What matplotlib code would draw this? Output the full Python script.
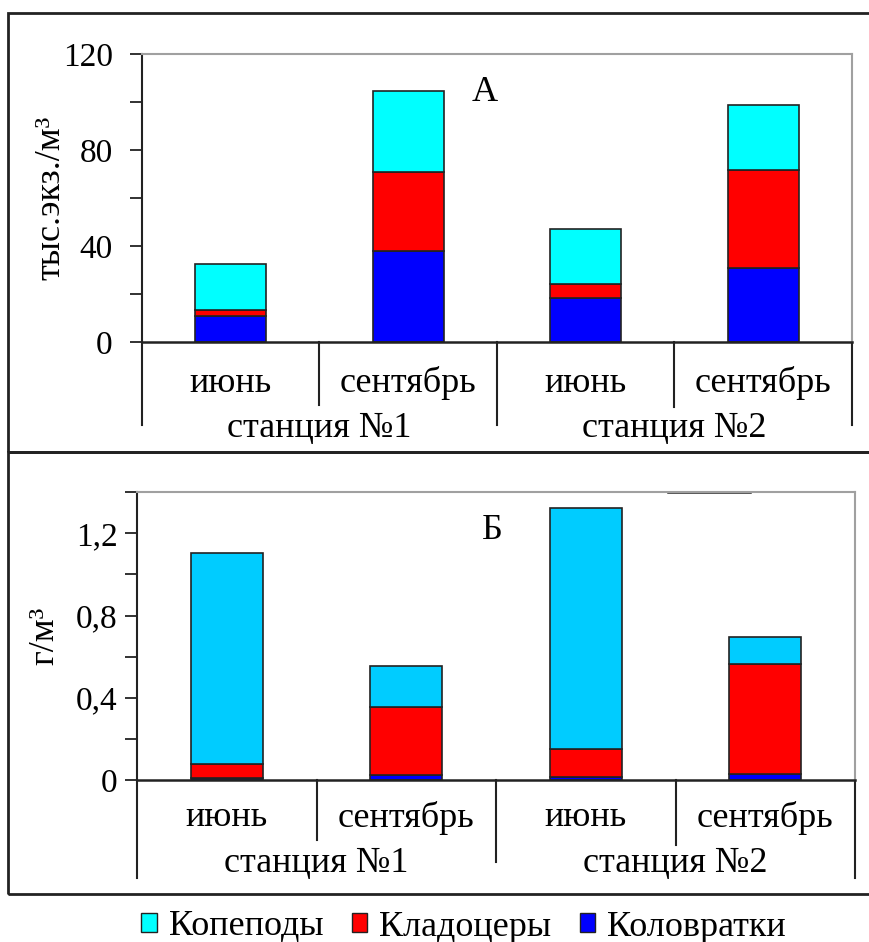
import matplotlib
matplotlib.use("Agg")
from matplotlib import pyplot as plt
from matplotlib.patches import Patch, Rectangle
from matplotlib.ticker import FixedLocator

plt.rcParams["font.family"] = ["Liberation Serif", "DejaVu Serif"]

months = ["июнь", "сентябрь", "июнь", "сентябрь"]
stations = ["станция №1", "станция №2"]
groups = ["Копеподы", "Кладоцеры", "Коловратки"]

# A: abundance, thousand ind./m3
abund_rotifers = [10.8, 38.2, 18.6, 31.1]
abund_cladocera = [2.8, 32.8, 5.8, 40.7]
abund_copepods = [19.2, 33.8, 22.9, 27.2]

# Б: biomass, g/m3
bio_rotifers = [0.008, 0.024, 0.016, 0.028]
bio_cladocera = [0.068, 0.329, 0.135, 0.535]
bio_copepods = [1.03, 0.20, 1.174, 0.133]

fs = 26
tick_fs = 24
fig = plt.figure(figsize=(8.7, 9.42), dpi=100)

# panel frames
fig.add_artist(Rectangle((0.0092, 0.520), 1.2, 0.4662, transform=fig.transFigure,
                         fill=False, lw=2, ec="#222222"))
fig.add_artist(Rectangle((0.0092, 0.051), 1.2, 0.469, transform=fig.transFigure,
                         fill=False, lw=2, ec="#222222"))


def draw_panel(ax, rot, cla, cop, cop_color, ymax, major, minor, fmt, ylabel,
               letter, letter_xy, pad, line_low, div_low, month_y, station_y):
    x = range(len(months))
    ax.bar(x, rot, 0.4, color="#0000FF", edgecolor="#222222", lw=1.2)
    ax.bar(x, cla, 0.4, bottom=rot, color="#FF0000", edgecolor="#222222", lw=1.2)
    bottom3 = [a + b for a, b in zip(rot, cla)]
    ax.bar(x, cop, 0.4, bottom=bottom3, color=cop_color, edgecolor="#222222", lw=1.2)

    ax.set_xlim(-0.5, 3.5)
    ax.set_ylim(0, ymax)
    ax.set_xticks([])
    ax.yaxis.set_major_locator(FixedLocator(major))
    ax.yaxis.set_minor_locator(FixedLocator(minor))
    ax.set_yticklabels([fmt(v) for v in major], fontsize=tick_fs)
    ax.tick_params(axis="y", which="both", direction="out", length=9, width=1.3,
                   color="#222222", pad=pad)

    for s in ["top", "right"]:
        ax.spines[s].set_color("#a0a0a0")
        ax.spines[s].set_linewidth(1.5)
    ax.spines["left"].set_linewidth(1.5)
    ax.spines["bottom"].set_linewidth(1.8)
    ax.spines["bottom"].set_color("#222222")
    ax.spines["left"].set_color("#222222")

    ax.set_ylabel(ylabel, fontsize=fs)
    ax.yaxis.set_label_coords(-0.105, 0.5)

    ax.text(letter_xy[0], letter_xy[1], letter, fontsize=fs, ha="center", va="center")

    tr = ax.get_xaxis_transform()
    # category separators below the axis
    for xv in [-0.5, 3.5]:
        ax.plot([xv, xv], [0, line_low], transform=tr, color="#222222", lw=1.5,
                clip_on=False)
    for xv, low in zip([0.5, 1.5, 2.5], div_low):
        ax.plot([xv, xv], [0, low], transform=tr, color="#222222", lw=1.5,
                clip_on=False)
    for i, m in enumerate(months):
        ax.text(i, month_y, m, transform=tr, fontsize=fs, ha="center", va="center")
    for i, s in enumerate(stations):
        ax.text(0.5 + 2 * i, station_y, s, transform=tr, fontsize=fs,
                ha="center", va="center")


ax1 = fig.add_axes([0.1632, 0.6366, 0.8161, 0.3058])
draw_panel(ax1, abund_rotifers, abund_cladocera, abund_copepods, "#00FFFF",
           120, [0, 40, 80, 120], [20, 60, 100], lambda v: "%d" % v,
           "тыс.экз./м³", "А", (1.43, 104), 12, -0.288, [-0.219, -0.288, -0.226],
           -0.142, -0.30)

ax2 = fig.add_axes([0.1575, 0.1720, 0.8253, 0.3054])
draw_panel(ax2, bio_rotifers, bio_cladocera, bio_copepods, "#00CCFF",
           1.4, [0, 0.4, 0.8, 1.2], [0.2, 0.6, 1.0, 1.4],
           lambda v: ("%g" % v).replace(".", ","),
           "г/м³", "Б", (1.48, 1.216), 5, -0.341, [-0.209, -0.285, -0.226],
           -0.132, -0.289)
ax2.plot([2.46, 2.915], [1.4, 1.4], color="#222222", lw=1.8, clip_on=False)

handles = [Patch(facecolor="#00FFFF", edgecolor="#222222"),
           Patch(facecolor="#FF0000", edgecolor="#222222"),
           Patch(facecolor="#0000FF", edgecolor="#222222")]
fig.legend(handles, groups, loc="center", bbox_to_anchor=(0.533, 1 - 927 / 942),
           ncol=3, frameon=False, fontsize=fs, handlelength=0.42, handleheight=0.42,
           handletextpad=0.33, columnspacing=0.8, borderaxespad=0, borderpad=0)

fig.savefig("out.png", dpi=100, facecolor="white")
